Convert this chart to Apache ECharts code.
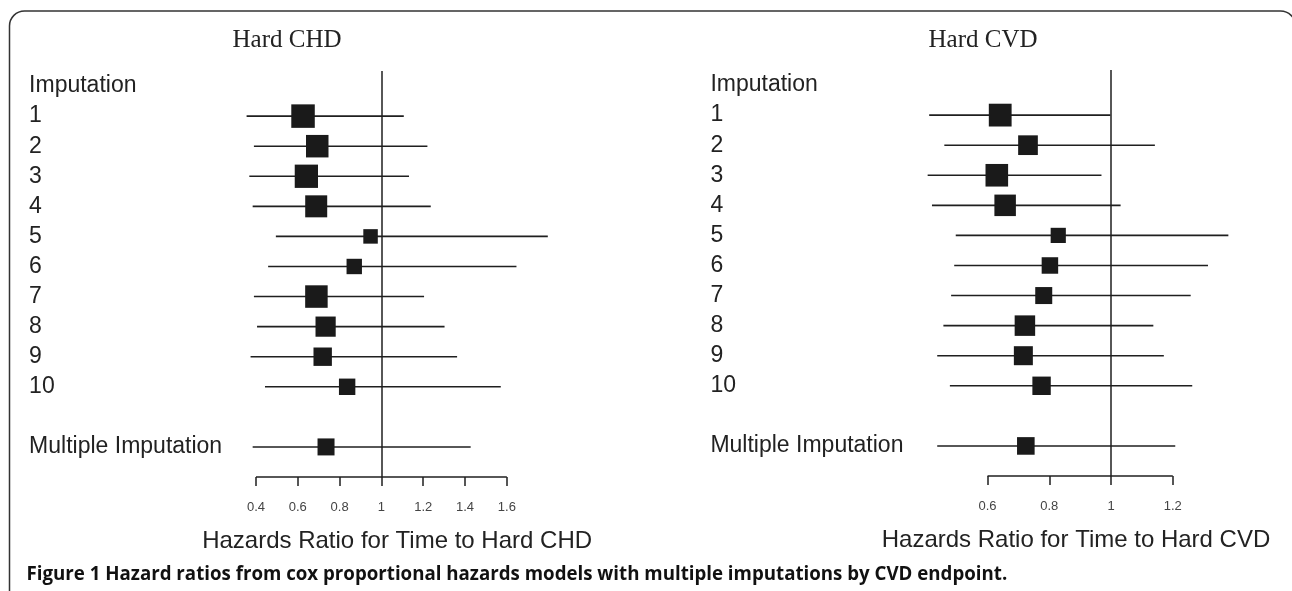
<!DOCTYPE html>
<html>
<head>
<meta charset="UTF-8">
<script src="https://cdn.jsdelivr.net/npm/echarts@6/dist/echarts.min.js"></script>
<style>
  html, body { margin: 0; padding: 0; background: #fff; }
</style>
</head>
<body>
<div id="main" style="width:1292px;height:591px;"></div>
<script>
// rows of the forest plot, top to bottom ('' is the spacer row)
var rowLabels = ['Imputation', '1', '2', '3', '4', '5', '6', '7', '8', '9', '10', '', 'Multiple Imputation'];
var estLabels = ['1', '2', '3', '4', '5', '6', '7', '8', '9', '10', 'Multiple Imputation'];

// Hard CHD: hazard ratio and 95% CI
var chdHR = [0.625, 0.693, 0.641, 0.688, 0.948, 0.870, 0.689, 0.733, 0.719, 0.836, 0.735];
var chdLo = [0.355, 0.390, 0.368, 0.384, 0.495, 0.458, 0.390, 0.405, 0.374, 0.443, 0.384];
var chdHi = [1.107, 1.220, 1.132, 1.236, 1.796, 1.646, 1.204, 1.302, 1.362, 1.571, 1.427];

// Hard CVD
var cvdHR = [0.641, 0.731, 0.630, 0.657, 0.829, 0.802, 0.782, 0.721, 0.716, 0.775, 0.724];
var cvdLo = [0.411, 0.460, 0.406, 0.420, 0.497, 0.492, 0.482, 0.457, 0.437, 0.478, 0.437];
var cvdHi = [0.998, 1.142, 0.969, 1.031, 1.380, 1.314, 1.258, 1.137, 1.171, 1.263, 1.208];

var chdTicks = [0.4, 0.6, 0.8, 1, 1.2, 1.4, 1.6];
var cvdTicks = [0.6, 0.8, 1, 1.2];

// box sizes in px (study weight in the original plot)
var chdBox = [23.5, 22.5, 23.3, 22, 14.5, 15.4, 22.5, 20.2, 18.4, 16.4, 17];
var cvdBox = [22.8, 19.7, 22.6, 21.5, 15.2, 16.5, 17, 20.5, 19, 18.4, 17.6];

var ink = '#1f1f1f';
var sans = '"Liberation Sans", Arial, sans-serif';

function rowOf(i) { return rowLabels.indexOf(estLabels[i]); }

function ciData(lo, hi) {
  return lo.map(function (v, i) { return [v, hi[i], rowOf(i)]; });
}
function ptData(hr) {
  return hr.map(function (v, i) { return [v, rowOf(i)]; });
}

function yAxisFor(gridIndex, margin) {
  return {
    type: 'value', gridIndex: gridIndex, inverse: true,
    min: -0.5, max: 13, interval: 0.5,
    axisLine: { show: false }, axisTick: { show: false }, splitLine: { show: false },
    axisLabel: {
      align: 'left', margin: margin, color: '#222', fontSize: 23, fontFamily: sans,
      showMinLabel: true, showMaxLabel: true,
      formatter: function (v) {
        var r = Math.round(v);
        if (Math.abs(v - r) > 1e-6) return '';
        return rowLabels[r] || '';
      }
    }
  };
}

function xAxisFor(gridIndex, min, max, ticks, name) {
  return {
    type: 'value', gridIndex: gridIndex, min: min, max: max, position: 'bottom',
    axisLine: { show: false, onZero: false },
    splitLine: { show: false },
    axisTick: { show: true, length: 9, customValues: ticks, lineStyle: { color: ink, width: 1.5 } },
    axisLabel: { customValues: ticks, margin: 24, color: '#444', fontSize: 13, fontFamily: sans,
      formatter: function (v) { return String(+v.toFixed(2)); } },
    name: name, nameLocation: 'middle', nameGap: 52,
    nameTextStyle: { color: '#222', fontSize: 24, fontFamily: sans }
  };
}

function panelSeries(idx, lo, hi, hr, box, ticks) {
  return [
    {
      type: 'custom', xAxisIndex: idx, yAxisIndex: idx, clip: false,
      data: ciData(lo, hi),
      renderItem: function (params, api) {
        var a = api.coord([api.value(0), api.value(2)]);
        var b = api.coord([api.value(1), api.value(2)]);
        return { type: 'line', shape: { x1: a[0], y1: a[1], x2: b[0], y2: b[1] },
          style: { stroke: ink, lineWidth: 1.6 } };
      },
      z: 2
    },
    {
      type: 'line', xAxisIndex: idx, yAxisIndex: idx, clip: false,
      data: [[ticks[0], 13], [ticks[ticks.length - 1], 13]],
      showSymbol: false, symbol: 'none',
      lineStyle: { color: ink, width: 1.5 }, silent: true, z: 2
    },
    {
      type: 'scatter', xAxisIndex: idx, yAxisIndex: idx, clip: false,
      data: ptData(hr), symbol: 'rect',
      symbolSize: function (v, p) { return box[p.dataIndex]; },
      itemStyle: { color: '#1a1a1a', opacity: 1 },
      markLine: {
        silent: true, symbol: ['none', 'none'], label: { show: false },
        lineStyle: { color: ink, width: 1.5, type: 'solid' },
        data: [{ xAxis: 1 }]
      },
      z: 3
    }
  ];
}

var chart = echarts.init(document.getElementById('main'));
chart.setOption({
  animation: false,
  grid: [
    { left: 235.1, top: 71, width: 324, height: 406 },
    { left: 925.8, top: 70, width: 300.4, height: 406 }
  ],
  xAxis: [
    xAxisFor(0, 0.3, 1.85, chdTicks, 'Hazards Ratio for Time to Hard CHD'),
    xAxisFor(1, 0.4, 1.373, cvdTicks, 'Hazards Ratio for Time to Hard CVD')
  ],
  yAxis: [yAxisFor(0, 206), yAxisFor(1, 215.4)],
  series: panelSeries(0, chdLo, chdHi, chdHR, chdBox, chdTicks)
    .concat(panelSeries(1, cvdLo, cvdHi, cvdHR, cvdBox, cvdTicks)),
  graphic: [
    { type: 'rect', silent: true, shape: { x: 9.5, y: 11, width: 1286, height: 700, r: 15 },
      style: { fill: 'none', stroke: '#333', lineWidth: 1.5 } },
    { type: 'text', x: 287, y: 40, style: { text: 'Hard CHD', fill: '#222',
      font: '25px "Liberation Serif", "Times New Roman", serif', textAlign: 'center', textVerticalAlign: 'middle' } },
    { type: 'text', x: 983, y: 40, style: { text: 'Hard CVD', fill: '#222',
      font: '25px "Liberation Serif", "Times New Roman", serif', textAlign: 'center', textVerticalAlign: 'middle' } },
    { type: 'text', x: 26.5, y: 575, style: {
      text: 'Figure 1 Hazard ratios from cox proportional hazards models with multiple imputations by CVD endpoint.',
      fill: '#111', font: 'bold 18.7px "Open Sans", sans-serif', textVerticalAlign: 'middle' } }
  ]
});
</script>
</body>
</html>
